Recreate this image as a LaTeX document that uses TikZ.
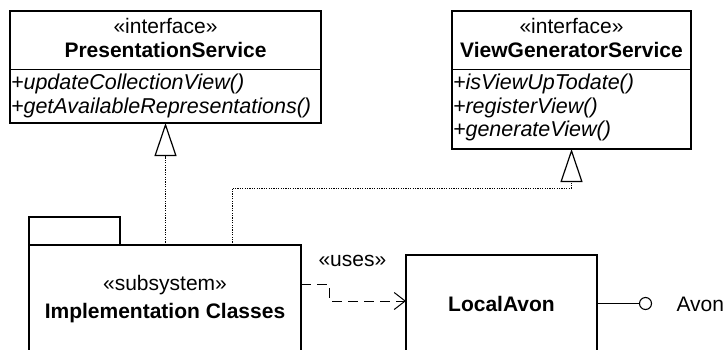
\documentclass[tikz,border=0pt]{standalone}
\usepackage{fontspec}
\setmainfont{Liberation Sans}
\usetikzlibrary{arrows.meta}

\tikzset{
  outline/.style={draw=black, line width=1.4pt, fill=white, inner sep=0pt, outer sep=0pt},
  compline/.style={line width=0.9pt},
  label/.style={inner sep=0pt, outer sep=0pt, font=\fontsize{21}{24}\selectfont},
  title/.style={label, font=\fontsize{21}{24}\selectfont\bfseries},
  member/.style={label, anchor=base west, font=\fontsize{21.5}{24}\selectfont\itshape},
  realize/.style={line width=0.9pt, dash pattern=on 1.2pt off 1.2pt,
    -{Triangle[open, length=33pt, width=22pt, line width=1.2pt]}},
  depend/.style={line width=1pt, dash pattern=on 10pt off 6pt,
    -{Straight Barb[length=11pt, width=17pt, line width=1pt]}},
}

\begin{document}
\begin{tikzpicture}[x=1pt, y=-1pt]
  \useasboundingbox (0,0) rectangle (725,349);
  \clip (0,0) rectangle (725,349);

  % interface PresentationService
  \node[outline, anchor=north west, minimum width=311pt, minimum height=112pt] (ps) at (10,11) {};
  \draw[compline] (ps.west |- 0,69) -- (ps.east |- 0,69);
  \node[label, anchor=base] (psster) at (165.5,33) {«interface»};
  \node[title, anchor=base] (psname) at (165.5,57) {PresentationService};
  \node[member] (psop1) at (11,89.5) {+updateCollectionView()};
  \node[member] (psop2) at (11,113) {+getAvailableRepresentations()};

  % interface ViewGeneratorService
  \node[outline, anchor=north west, minimum width=239pt, minimum height=138pt] (vg) at (452,11) {};
  \draw[compline] (vg.west |- 0,69) -- (vg.east |- 0,69);
  \node[label, anchor=base] (vgster) at (571.5,33) {«interface»};
  \node[title, anchor=base] (vgname) at (571.5,57) {ViewGeneratorService};
  \node[member] (vgop1) at (453,89.5) {+isViewUpTodate()};
  \node[member] (vgop2) at (453,113) {+registerView()};
  \node[member] (vgop3) at (453,136.5) {+generateView()};

  % subsystem package
  \node[outline, anchor=north west, minimum width=91pt, minimum height=28pt] (tab) at (29,217) {};
  \node[outline, anchor=north west, minimum width=272pt, minimum height=130pt] (sub) at (29,245) {};
  \node[label, anchor=base] (subster) at (165,290) {«subsystem»};
  \node[title, anchor=base] (subname) at (165,318) {Implementation Classes};

  % component LocalAvon
  \node[outline, anchor=north west, minimum width=191pt, minimum height=120pt] (la) at (406,255) {};
  \node[title, anchor=base] (laname) at (501.5,311) {LocalAvon};

  % provided interface Avon
  \node[draw, circle, line width=1.1pt, minimum size=12pt, inner sep=0pt, outer sep=0pt] (avonif) at (645.5,303.5) {};
  \draw[line width=1.1pt] (la.east |- avonif) -- (avonif.west);
  \node[label, anchor=base west] (avon) at (676.5,311) {Avon};

  % realizations
  \draw[realize] (ps.south |- sub.north) -- (ps.south);
  \coordinate (vgfoot) at (232,245);
  \coordinate (vgbend) at (232,188);
  \draw[realize] (vgfoot) -- (vgbend) -- (vgbend -| vg.south) -- (vg.south);

  % usage dependency
  \coordinate (usesout) at (301,284);
  \coordinate (usesbend) at (329,301);
  \draw[depend] (usesout) -| (usesbend) -- (la.west |- usesbend);
  \node[label, anchor=base west] (uses) at (318.5,266) {«uses»};
\end{tikzpicture}
\end{document}
